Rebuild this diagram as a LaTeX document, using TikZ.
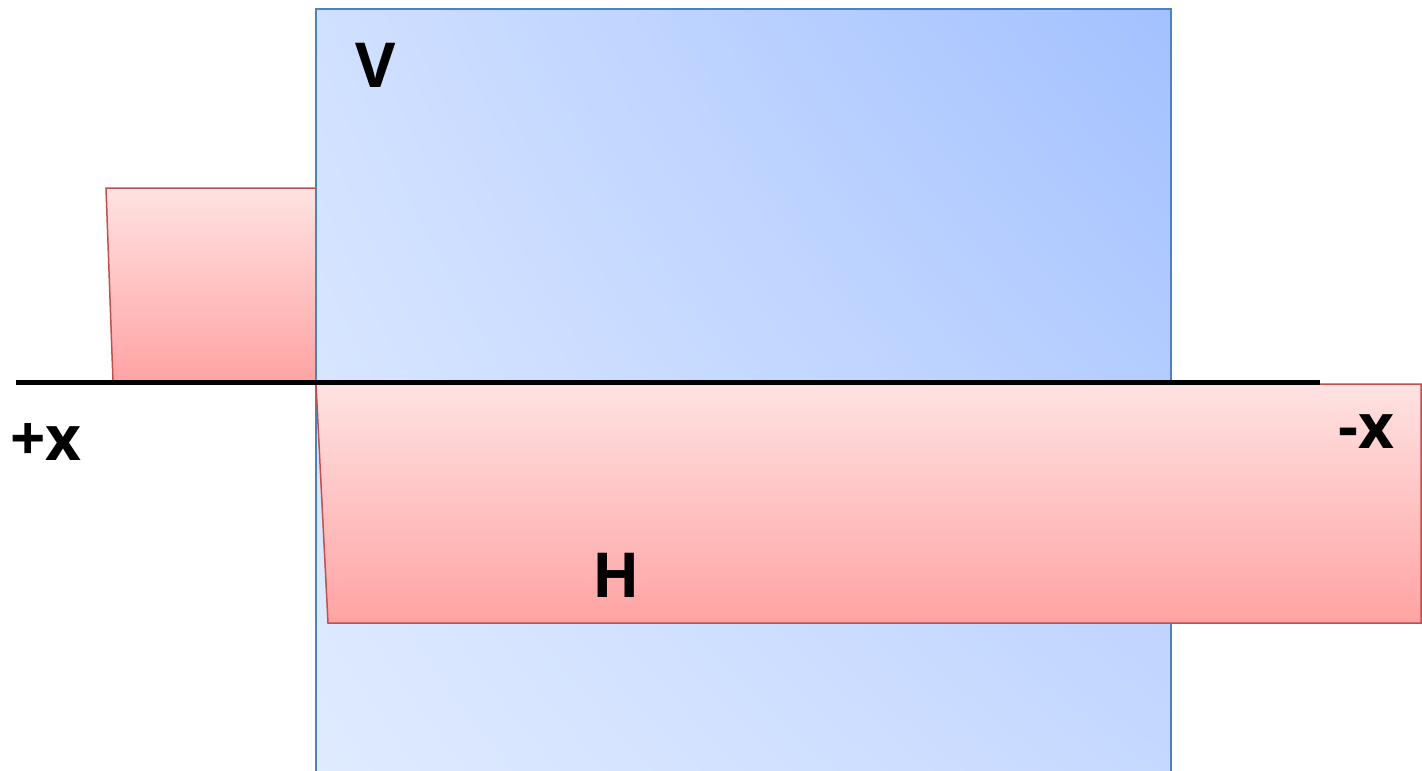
\documentclass[tikz,border=0pt]{standalone}
\usepackage{fontspec}
\setmainfont{Open Sans}
\usetikzlibrary{shadings}
\definecolor{blueedge}{HTML}{4F81BD}
\definecolor{redge}{HTML}{C0504D}
\definecolor{bUL}{HTML}{D0E0FF}
\definecolor{bUR}{HTML}{A3C1FF}
\definecolor{bLL}{HTML}{E0EBFF}
\definecolor{bLR}{HTML}{C6D9FF}
\definecolor{pTop}{HTML}{FFE2E2}
\definecolor{pBot}{HTML}{FFA3A3}
\tikzset{
  pinkshape/.style={draw=redge, line width=1.5pt, top color=pTop, bottom color=pBot},
  lbl/.style={font=\fontsize{62}{70}\selectfont\bfseries, anchor=base, inner sep=0pt}
}
\begin{document}
\begin{tikzpicture}[x=1pt,y=-1pt]
\useasboundingbox (0,0) rectangle (1422,771);
\fill[white] (0,0) rectangle (1422,771);
\clip (0,0) rectangle (1422,771);
% upper-left pink block
\path[pinkshape] (106,188) -- (316,188) -- (316,382) -- (113,382) -- cycle;
% vertical blue block
\path[draw=blueedge, line width=1.5pt, lower left=bLL, upper left=bUL, upper right=bUR, lower right=bLR]
  (316,9) rectangle (1171,790);
% lower pink block
\path[pinkshape] (316,384) -- (1421,384) -- (1421,623) -- (328,623) -- cycle;
% axis line
\coordinate (axL) at (16,382);
\coordinate (axR) at (1320,382);
\draw[line width=5pt] (axL) -- (axR);
% labels
\node[lbl] (px) at (46,460) {+x};
\node[lbl] (mx) at (1366,448) {-x};
\node[lbl] (V) at (376,87) {V};
\node[lbl] (H) at (616,597) {H};
\end{tikzpicture}
\end{document}
